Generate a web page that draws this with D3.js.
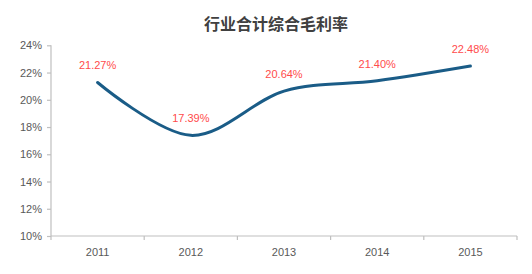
<!DOCTYPE html>
<html><head><meta charset="utf-8">
<script src="https://cdn.jsdelivr.net/npm/d3@7"></script>
<style>body{margin:0;background:#fff}</style>
</head><body>
<svg id="c" width="532" height="274"></svg>
<script>
const categories = ["2011","2012","2013","2014","2015"];
const values = [21.27, 17.39, 20.64, 21.40, 22.48];
const valueLabels = ["21.27%","17.39%","20.64%","21.40%","22.48%"];
const yTicks = [10,12,14,16,18,20,22,24];
const title = "行业合计综合毛利率";

const svg = d3.select("#c");
const font = "Arial, 'Liberation Sans', 'Noto Sans CJK SC', sans-serif";
const x = d3.scaleBand().domain(categories).range([51, 517]);
const y = d3.scaleLinear().domain([10, 24]).range([236, 45.3]);

svg.append("text").attr("x", 276).attr("y", 30).attr("text-anchor","middle")
  .attr("font-family", "'Noto Sans CJK SC', sans-serif").attr("font-weight","bold")
  .attr("font-size", 16).attr("fill","#404040").text(title);

const ya = svg.append("g").attr("transform","translate(51,0)")
  .call(d3.axisLeft(y).tickValues(yTicks).tickSize(4).tickPadding(5).tickFormat(d => d + "%"));
const xa = svg.append("g").attr("transform","translate(0,236)")
  .call(d3.axisBottom(x).tickSize(4).tickPadding(6));
xa.selectAll(".tick line").remove();
const bounds = categories.map(c => x(c)).concat([x.range()[1]]);
xa.selectAll(".bt").data(bounds).enter().append("line")
  .attr("x1", d => d).attr("x2", d => d).attr("y1", 0).attr("y2", 4);
[ya, xa].forEach(a => {
  a.select(".domain").attr("stroke","#bfbfbf").attr("stroke-width",1.2);
  a.selectAll("line").attr("stroke","#bfbfbf").attr("stroke-width",1.2);
  a.selectAll("text").attr("font-family", font).attr("font-size", 11).attr("fill","#595959");
});
ya.select(".domain").attr("d", "M-0,45.3V236");
xa.select(".domain").attr("d", "M51,0H517");
xa.selectAll(".tick text").attr("dy","0.9em");

const line = d3.line().x((d,i) => x(categories[i]) + x.bandwidth()/2).y(d => y(d))
  .curve(d3.curveCardinal.tension(0));
svg.append("path").datum(values).attr("d", line).attr("fill","none")
  .attr("stroke","#1a5c87").attr("stroke-width",3).attr("stroke-linecap","round");

svg.selectAll(".lbl").data(values).enter().append("text")
  .attr("x", (d,i) => x(categories[i]) + x.bandwidth()/2)
  .attr("y", d => y(d) - 13)
  .attr("text-anchor","middle").attr("font-family", font).attr("font-size", 11)
  .attr("fill","#ff4b4b").text((d,i) => valueLabels[i]);
</script>
</body></html>
